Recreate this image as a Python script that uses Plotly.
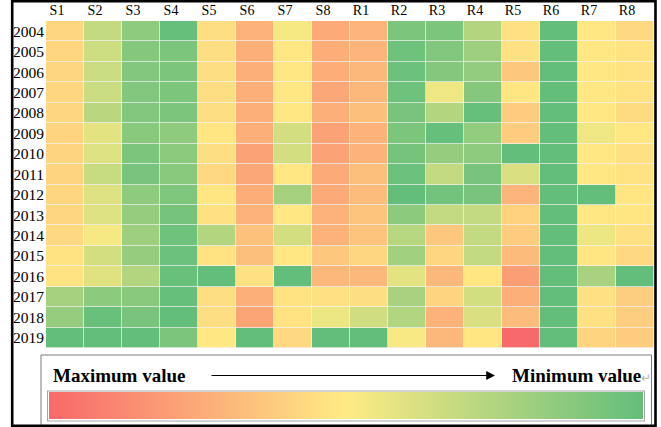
import numpy as np
import plotly.graph_objects as go

# ---------------- data ----------------
years = ["2004", "2005", "2006", "2007", "2008", "2009", "2010", "2011",
         "2012", "2013", "2014", "2015", "2016", "2017", "2018", "2019"]
columns = ["S1", "S2", "S3", "S4", "S5", "S6", "S7", "S8",
           "R1", "R2", "R3", "R4", "R5", "R6", "R7", "R8"]

# relative score per indicator (1 = maximum value, 0 = minimum value)
s1 = [0.58, 0.58, 0.58, 0.58, 0.58, 0.59, 0.59, 0.59, 0.58, 0.58, 0.57, 0.53, 0.53, 0.21, 0.16, 0.00]
s2 = [0.31, 0.34, 0.33, 0.33, 0.28, 0.41, 0.39, 0.32, 0.39, 0.39, 0.47, 0.36, 0.40, 0.13, 0.02, 0.00]
s3 = [0.14, 0.11, 0.10, 0.10, 0.10, 0.12, 0.08, 0.07, 0.14, 0.16, 0.19, 0.16, 0.26, 0.12, 0.07, 0.00]
s4 = [0.01, 0.08, 0.08, 0.08, 0.08, 0.14, 0.13, 0.12, 0.09, 0.06, 0.04, 0.03, 0.02, 0.01, 0.00, 0.08]
s5 = [0.55, 0.55, 0.55, 0.55, 0.55, 0.52, 0.55, 0.57, 0.52, 0.54, 0.26, 0.53, 0.00, 0.55, 0.55, 0.51]
s6 = [0.72, 0.73, 0.73, 0.73, 0.73, 0.73, 0.78, 0.76, 0.74, 0.72, 0.66, 0.67, 0.54, 0.73, 0.77, 0.00]
s7 = [0.47, 0.51, 0.51, 0.51, 0.51, 0.36, 0.36, 0.51, 0.21, 0.51, 0.36, 0.51, 0.00, 0.53, 0.53, 0.57]
s8 = [0.75, 0.74, 0.74, 0.76, 0.73, 0.78, 0.78, 0.75, 0.75, 0.72, 0.72, 0.64, 0.70, 0.54, 0.44, 0.00]
r1 = [0.71, 0.71, 0.70, 0.70, 0.67, 0.72, 0.72, 0.67, 0.68, 0.65, 0.65, 0.58, 0.70, 0.55, 0.35, 0.00]
r2 = [0.08, 0.04, 0.03, 0.04, 0.07, 0.08, 0.06, 0.03, 0.00, 0.13, 0.27, 0.20, 0.41, 0.22, 0.25, 0.48]
r3 = [0.08, 0.10, 0.11, 0.45, 0.26, 0.01, 0.16, 0.31, 0.05, 0.31, 0.64, 0.58, 0.70, 0.59, 0.72, 0.70]
r4 = [0.26, 0.19, 0.15, 0.11, 0.01, 0.15, 0.14, 0.07, 0.07, 0.31, 0.31, 0.31, 0.52, 0.36, 0.38, 0.52]
r5 = [0.54, 0.54, 0.64, 0.52, 0.62, 0.62, 0.00, 0.38, 0.71, 0.60, 0.62, 0.69, 0.80, 0.73, 0.68, 1.00]
r6 = [0.00, 0.00, 0.00, 0.00, 0.00, 0.00, 0.00, 0.00, 0.00, 0.00, 0.00, 0.00, 0.00, 0.00, 0.00, 0.00]
r7 = [0.51, 0.51, 0.51, 0.51, 0.51, 0.45, 0.51, 0.51, 0.00, 0.51, 0.44, 0.52, 0.22, 0.54, 0.54, 0.59]
r8 = [0.57, 0.53, 0.53, 0.53, 0.56, 0.51, 0.54, 0.53, 0.52, 0.52, 0.54, 0.57, 0.00, 0.61, 0.61, 0.62]

legend_left = "Maximum value"
legend_right = "Minimum value"

# ---------------- figure ----------------
score = np.column_stack([s1, s2, s3, s4, s5, s6, s7, s8,
                         r1, r2, r3, r4, r5, r6, r7, r8])
# negate so that the colour bar runs from maximum (left, red) to minimum (right, green)
z = -score

W, H = 661, 427
L, R, T, B = 46, 654, 21, 348   # plot area in pixels


def px_x(p):
    return (p - L) / (R - L)


def px_y(p):
    return (B - p) / (B - T)


serif = "Liberation Serif"

fig = go.Figure(go.Heatmap(
    z=z, x=columns, y=years,
    zmin=-1, zmax=0,
    colorscale=[[0.0, "#F8696B"], [0.5, "#FFEB84"], [1.0, "#63BE7B"]],
    xgap=0.7, ygap=0.7,
    customdata=score,
    hovertemplate="%{y} %{x}: %{customdata:.2f}<extra></extra>",
    colorbar=dict(
        orientation="h",
        lenmode="pixels", len=596,
        thickness=27,
        x=px_x(345.7), xanchor="center",
        y=px_y(420.5), yanchor="bottom",
        xpad=1, ypad=1,
        outlinewidth=0,
        borderwidth=1, bordercolor="#a6a6a6",
        bgcolor="white",
        showticklabels=False, ticks="",
    ),
))

fig.update_layout(
    width=W, height=H, autosize=False,
    margin=dict(l=L, r=W - R, t=T, b=H - B, pad=0, autoexpand=False),
    paper_bgcolor="white", plot_bgcolor="#f4f4f4",
    font=dict(family=serif, color="black"),
    xaxis=dict(side="top", showgrid=False, zeroline=False, ticks="",
               tickfont=dict(family=serif, size=14, color="black"),
               ticklabelshift=-8, ticklabelstandoff=2, fixedrange=True),
    yaxis=dict(autorange="reversed", showgrid=False, zeroline=False, ticks="",
               tickfont=dict(family=serif, size=15.5, color="black"),
               ticklabelstandoff=1, fixedrange=True),
    shapes=[
        # legend box
        dict(type="rect", xref="paper", yref="paper",
             x0=px_x(41), x1=px_x(651.5), y0=px_y(426), y1=px_y(355),
             line=dict(color="#7a7a7a", width=1), layer="above"),
        # outer black frame
        dict(type="rect", xref="paper", yref="paper",
             x0=px_x(12.2), x1=px_x(655.5), y0=px_y(425.8), y1=px_y(1.3),
             line=dict(color="black", width=2.6), layer="above"),
    ],
    annotations=[
        dict(xref="paper", yref="paper", x=px_x(51), y=px_y(375),
             xanchor="left", yanchor="middle", showarrow=False,
             text="<b>" + legend_left + "</b>",
             font=dict(family=serif, size=19, color="black")),
        dict(xref="paper", yref="paper", x=px_x(510), y=px_y(375),
             xanchor="left", yanchor="middle", showarrow=False,
             text="<b>" + legend_right + "</b><span style='color:#b5b5b5;font-size:12px'>↵</span>",
             font=dict(family=serif, size=19, color="black")),
        dict(xref="paper", yref="paper", axref="pixel", ayref="pixel",
             x=px_x(495), y=px_y(375.5), ax=-285, ay=0,
             text="", showarrow=True, arrowhead=2, arrowsize=1.6,
             arrowwidth=1.1, arrowcolor="black"),
    ],
)

fig.write_html(
    "out.html",
    config={"displayModeBar": False},
    post_script="document.body.style.margin='0';document.body.style.padding='0';"
                "document.body.style.overflow='hidden';",
)
